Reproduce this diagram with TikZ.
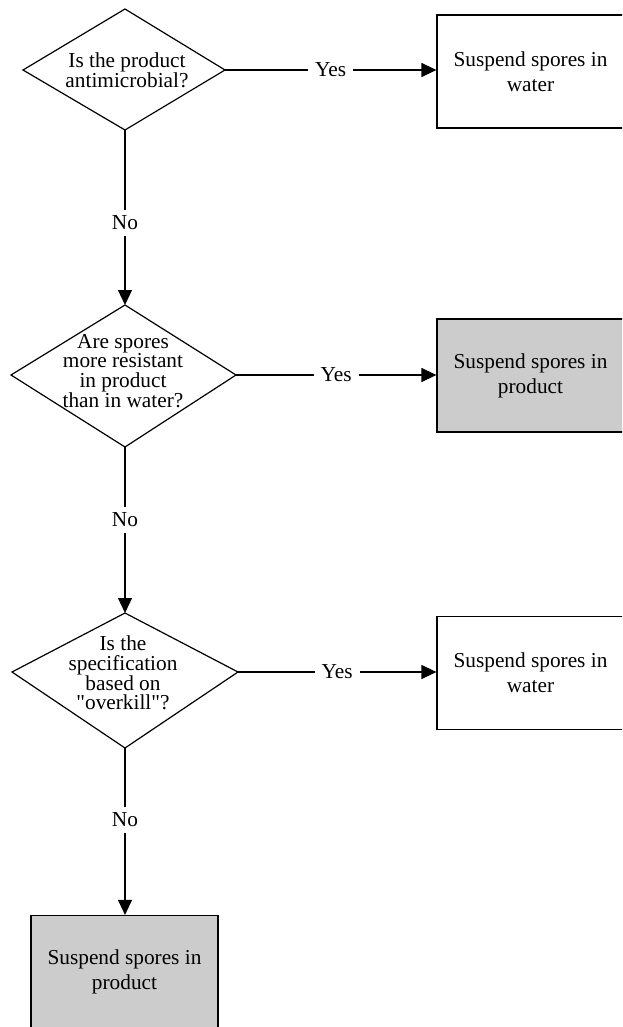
\documentclass[tikz,border=0pt]{standalone}
\usepackage{fontspec}
\setmainfont{Liberation Serif}
\usetikzlibrary{positioning,arrows.meta}
\definecolor{boxgray}{RGB}{204,204,204}
\tikzset{
  answer/.style={draw, line width=1.2pt, minimum width=187pt, minimum height=113pt, align=center, font=\fontsize{21.3}{25}\selectfont},
  question/.style={align=center, font=\fontsize{21.3}{19.8}\selectfont, inner sep=0pt},
  rhombus/.style={line width=1.2pt, line join=miter},
  flow/.style={line width=1.2pt, -{Triangle[length=15pt, width=14pt]}},
  reply/.style={fill=white, font=\fontsize{21.3}{24}\selectfont, inner xsep=7pt, inner ysep=6pt}
}

\begin{document}
\begin{tikzpicture}[x=1pt, y=-1pt]

\useasboundingbox (0,0) rectangle (622,1027);
\clip (0,0) rectangle (622,1027);

% Corners of the three decision diamonds
\coordinate (q1t) at (125,9);   \coordinate (q1r) at (225,70);
\coordinate (q1b) at (125,130); \coordinate (q1l) at (23,70);
\coordinate (q2t) at (125,305); \coordinate (q2r) at (236,375);
\coordinate (q2b) at (125,447); \coordinate (q2l) at (11,375);
\coordinate (q3t) at (125,613); \coordinate (q3r) at (238,672);
\coordinate (q3b) at (125,748); \coordinate (q3l) at (12,672);

% Decision diamonds
\draw[rhombus] (q1t) -- (q1r) -- (q1b) -- (q1l) -- cycle;
\draw[rhombus] (q2t) -- (q2r) -- (q2b) -- (q2l) -- cycle;
\draw[rhombus] (q3t) -- (q3r) -- (q3b) -- (q3l) -- cycle;

% Questions
\node[question] (q1text) at (127,70)  {Is the product\\antimicrobial?};
\node[question] (q2text) at (123,371) {Are spores\\more resistant\\in product\\than in water?};
\node[question] (q3text) at (123,673) {Is the\\specification\\based on\\\textquotedbl overkill\textquotedbl ?};

% Outcome boxes
\node[answer] (a1) at (530.5,71.5) {Suspend spores in\\water};
\node[answer, fill=boxgray] (a2) at (530.5,375.5) {Suspend spores in\\product};
\node[answer] (a3) at (530.5,673) {Suspend spores in\\water};
\node[answer, fill=boxgray] (a4) at (124.5,972) {Suspend spores in\\product};

% Yes branches
\draw[flow] (q1r) -- node[reply] {Yes} (q1r -| a1.west);
\draw[flow] (q2r) -- node[reply] {Yes} (q2r -| a2.west);
\draw[flow] (q3r) -- node[reply] {Yes} (q3r -| a3.west);

% No branches
\draw[flow] (q1b) -- node[reply, pos=0.53] {No} (q2t);
\draw[flow] (q2b) -- node[reply, pos=0.44] {No} (q3t);
\draw[flow] (q3b) -- node[reply, pos=0.43] {No} (q3b |- a4.north);

\end{tikzpicture}
\end{document}
